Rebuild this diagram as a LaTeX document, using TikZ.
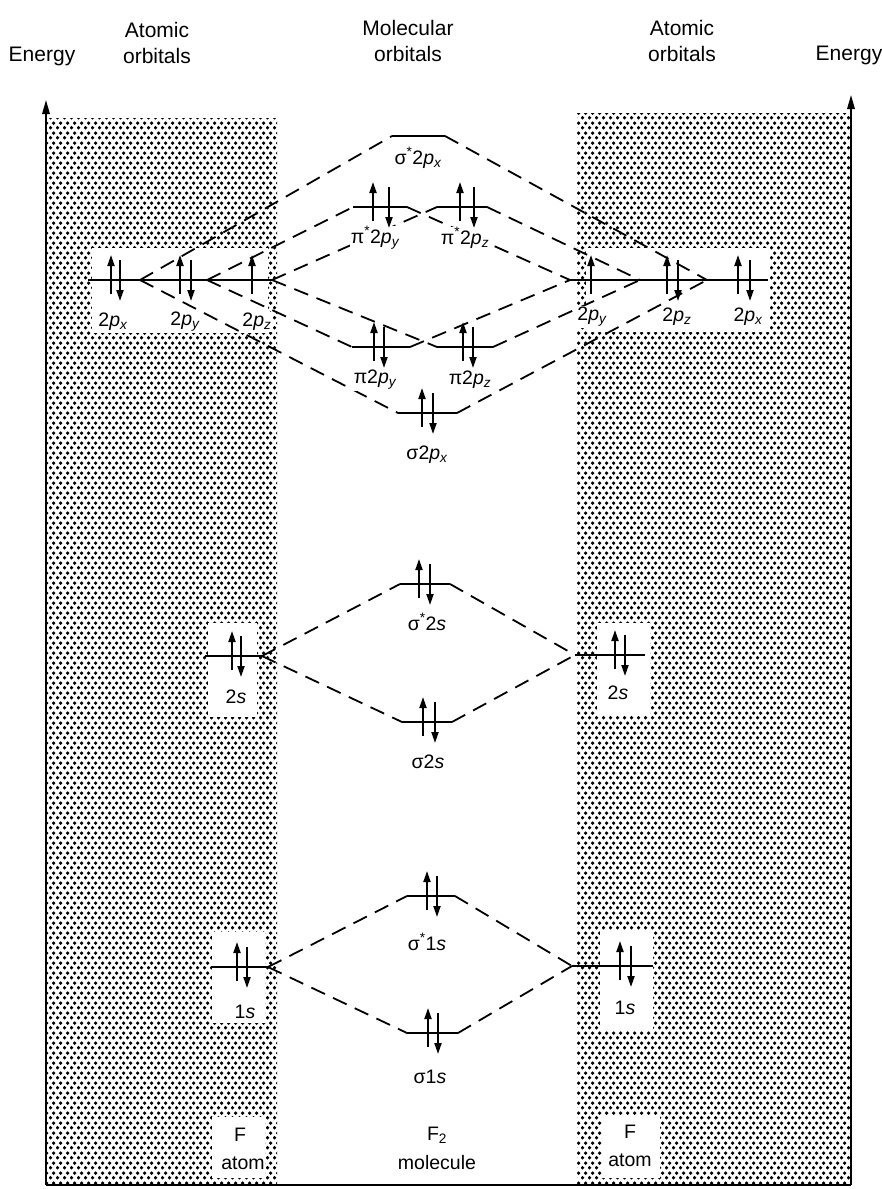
\documentclass[tikz,border=0pt]{standalone}
\usepackage{fontspec}
\setmainfont{Liberation Sans}
\usetikzlibrary{arrows.meta,patterns}
\pgfdeclarepatternformonly{halftone}{\pgfqpoint{0pt}{0pt}}{\pgfqpoint{7pt}{10pt}}{\pgfqpoint{7pt}{10pt}}{%
  \pgfpathcircle{\pgfqpoint{1.75pt}{2.5pt}}{2.1pt}%
  \pgfpathcircle{\pgfqpoint{5.25pt}{7.5pt}}{2.1pt}%
  \pgfusepath{fill}}
\newcommand{\mysub}[1]{\textsubscript{\itshape #1}}
\newcommand{\sstar}{\textsuperscript{*}}
\newcommand{\ip}{\textit{p}}
\newcommand{\is}{\textit{s}}
\begin{document}
\begin{tikzpicture}[x=1pt,y=-1pt,
  panel/.style={pattern=halftone,pattern color=black},
  hole/.style={fill=white},
  level/.style={line width=2.4pt},
  conn/.style={line width=1.8pt,dash pattern=on 15pt off 9pt},
  eu/.style={line width=1.9pt,-{Triangle[length=11pt,width=7pt]}},
  axis/.style={line width=1.7pt,-{Triangle[length=14pt,width=7.5pt]}},
  lab/.style={font=\fontsize{19.5}{22}\selectfont,inner sep=1pt},
  mlab/.style={lab,fill=white},
  head/.style={font=\fontsize{21}{26}\selectfont,inner sep=0pt,align=center}]
\useasboundingbox (0,0) rectangle (882,1189);
\newcommand{\epair}[3]{\draw[eu] (#1,#3+14) -- (#1,#3-25);\draw[eu] (#2,#3-20) -- (#2,#3+21);}
\newcommand{\eone}[2]{\draw[eu] (#1,#2+14) -- (#1,#2-25);}
% shaded panels
\fill[panel] (46,118) rectangle (277,1185);
\fill[panel] (577,113) rectangle (851,1185);
% white cut-outs
\fill[hole] (92,248) rectangle (268,333);
\fill[hole] (586,248) rectangle (770,332);
\fill[hole] (208,623) rectangle (257,717);
\fill[hole] (597,623) rectangle (650,715);
\fill[hole] (212,932) rectangle (265,1023);
\fill[hole] (600,930) rectangle (653,1030);
\fill[hole] (212,1117) rectangle (265,1178);
\fill[hole] (602,1115) rectangle (660,1178);
% energy axes
\coordinate (axLb) at (46,1185); \coordinate (axLt) at (46,100);
\coordinate (axRb) at (851,1185); \coordinate (axRt) at (851,95);
\draw[axis] (axLb) -- (axLt);
\draw[axis] (axRb) -- (axRt);
\draw[line width=1.4pt] (axLb) -- (axRb);
% level end points
\coordinate (Lp0) at (88,280); \coordinate (Lpx) at (140,280);
\coordinate (Lpy) at (207,280); \coordinate (Lpz) at (272,280);
\coordinate (Rpy) at (570,280); \coordinate (Rpz) at (640,280);
\coordinate (Rpx) at (707,280); \coordinate (Rp0) at (768,280);
\coordinate (sxsL) at (392,136); \coordinate (sxsR) at (445,136);
\coordinate (pysL) at (353,207); \coordinate (pysR) at (407,207);
\coordinate (pzsL) at (437,207); \coordinate (pzsR) at (487,207);
\coordinate (pyL) at (352,347); \coordinate (pyR) at (410,347);
\coordinate (pzL) at (437,347); \coordinate (pzR) at (493,347);
\coordinate (sxL) at (398,413); \coordinate (sxR) at (457,413);
\coordinate (L2s0) at (205,656); \coordinate (L2s) at (262,656);
\coordinate (R2s) at (575,655); \coordinate (R2s0) at (645,655);
\coordinate (ss2L) at (400,584); \coordinate (ss2R) at (450,584);
\coordinate (s2L) at (402,722); \coordinate (s2R) at (452,722);
\coordinate (L1s0) at (212,967); \coordinate (L1s) at (268,967);
\coordinate (R1s) at (572,966); \coordinate (R1s0) at (653,966);
\coordinate (ss1L) at (407,896); \coordinate (ss1R) at (455,896);
\coordinate (s1L) at (407,1033); \coordinate (s1R) at (458,1033);
% connectors
\draw[conn] (Lpx) -- (sxsL); \draw[conn] (Lpx) -- (sxL);
\draw[conn] (Lpy) -- (pysL); \draw[conn] (Lpy) -- (pyL);
\draw[conn] (Lpz) -- (pzsL); \draw[conn] (Lpz) -- (pzL);
\draw[conn] (pysR) -- (Rpy); \draw[conn] (pyR) -- (Rpy);
\draw[conn] (pzsR) -- (Rpz); \draw[conn] (pzR) -- (Rpz);
\draw[conn] (sxsR) -- (Rpx); \draw[conn] (sxR) -- (Rpx);
\draw[conn] (L2s) -- (ss2L); \draw[conn] (L2s) -- (s2L);
\draw[conn] (ss2R) -- (R2s); \draw[conn] (s2R) -- (R2s);
\draw[conn] (L1s) -- (ss1L); \draw[conn] (L1s) -- (s1L);
\draw[conn] (ss1R) -- (R1s); \draw[conn] (s1R) -- (R1s);
% levels
\draw[level] (Lp0) -- (Lpz);
\draw[level] (Rpy) -- (Rp0);
\draw[level] (sxsL) -- (sxsR);
\draw[level] (pysL) -- (pysR);
\draw[level] (pzsL) -- (pzsR);
\draw[level] (pyL) -- (pyR);
\draw[level] (pzL) -- (pzR);
\draw[level] (sxL) -- (sxR);
\draw[level] (L2s0) -- (L2s);
\draw[level] (R2s) -- (R2s0);
\draw[level] (ss2L) -- (ss2R);
\draw[level] (s2L) -- (s2R);
\draw[level] (L1s0) -- (L1s);
\draw[level] (R1s) -- (R1s0);
\draw[level] (ss1L) -- (ss1R);
\draw[level] (s1L) -- (s1R);
% orbital labels
\node[mlab] (tsxs) at (418,158) {σ\sstar 2\ip\mysub{x}};
\node[mlab] (tpys) at (375,238) {π\sstar 2\ip\mysub{y}};
\node[mlab] (tpzs) at (465,238) {π\sstar 2\ip\mysub{z}};
\node[mlab] (tpy) at (375,380) {π2\ip\mysub{y}};
\node[mlab] (tpz) at (470,380) {π2\ip\mysub{z}};
\node[mlab] (tsx) at (427,455) {σ2\ip\mysub{x}};
\node[mlab] (tss2) at (427,622) {σ\sstar 2\is};
\node[mlab] (ts2) at (428,762) {σ2\is};
\node[mlab] (tss1) at (427,942) {σ\sstar 1\is};
\node[mlab] (ts1) at (430,1077) {σ1\is};
\node[mlab] (tLpx) at (113,322) {2\ip\mysub{x}};
\node[mlab] (tLpy) at (185,322) {2\ip\mysub{y}};
\node[mlab] (tLpz) at (257,322) {2\ip\mysub{z}};
\node[mlab] (tRpy) at (592,317) {2\ip\mysub{y}};
\node[mlab] (tRpz) at (677,317) {2\ip\mysub{z}};
\node[mlab] (tRpx) at (748,317) {2\ip\mysub{x}};
\node[lab] (tL2s) at (236,697) {2\is};
\node[lab] (tR2s) at (618,693) {2\is};
\node[lab] (tL1s) at (245,1012) {1\is};
\node[lab] (tR1s) at (625,1008) {1\is};
% electrons
\epair{111}{120}{280}
\epair{180}{191}{280}
\eone{252}{280}
\eone{591}{280}
\epair{667}{678}{280}
\epair{738}{750}{280}
\epair{373}{389}{207}
\epair{460}{474}{207}
\epair{374}{384}{347}
\epair{463}{473}{347}
\epair{422}{433}{413}
\epair{232}{241}{656}
\epair{615}{625}{655}
\epair{419}{430}{584}
\epair{423}{435}{722}
\epair{237}{247}{967}
\epair{620}{631}{966}
\epair{427}{437}{896}
\epair{428}{438}{1033}
% headers
\node[head] (hEl) at (42,56) {Energy};
\node[head] (hAl) at (157,43) {Atomic\\orbitals};
\node[head] (hM) at (408,41) {Molecular\\orbitals};
\node[head] (hAr) at (682,41) {Atomic\\orbitals};
\node[head] (hEr) at (849,55) {Energy};
% bottom labels
\node[lab] (bLF) at (240,1135) {F};
\node[lab] (bLa) at (243,1163) {atom};
\node[lab] (bMF) at (437,1135) {F\textsubscript{2}};
\node[lab] (bMm) at (437,1163) {molecule};
\node[lab] (bRF) at (630,1132) {F};
\node[lab] (bRa) at (630,1160) {atom};
\end{tikzpicture}
\end{document}
